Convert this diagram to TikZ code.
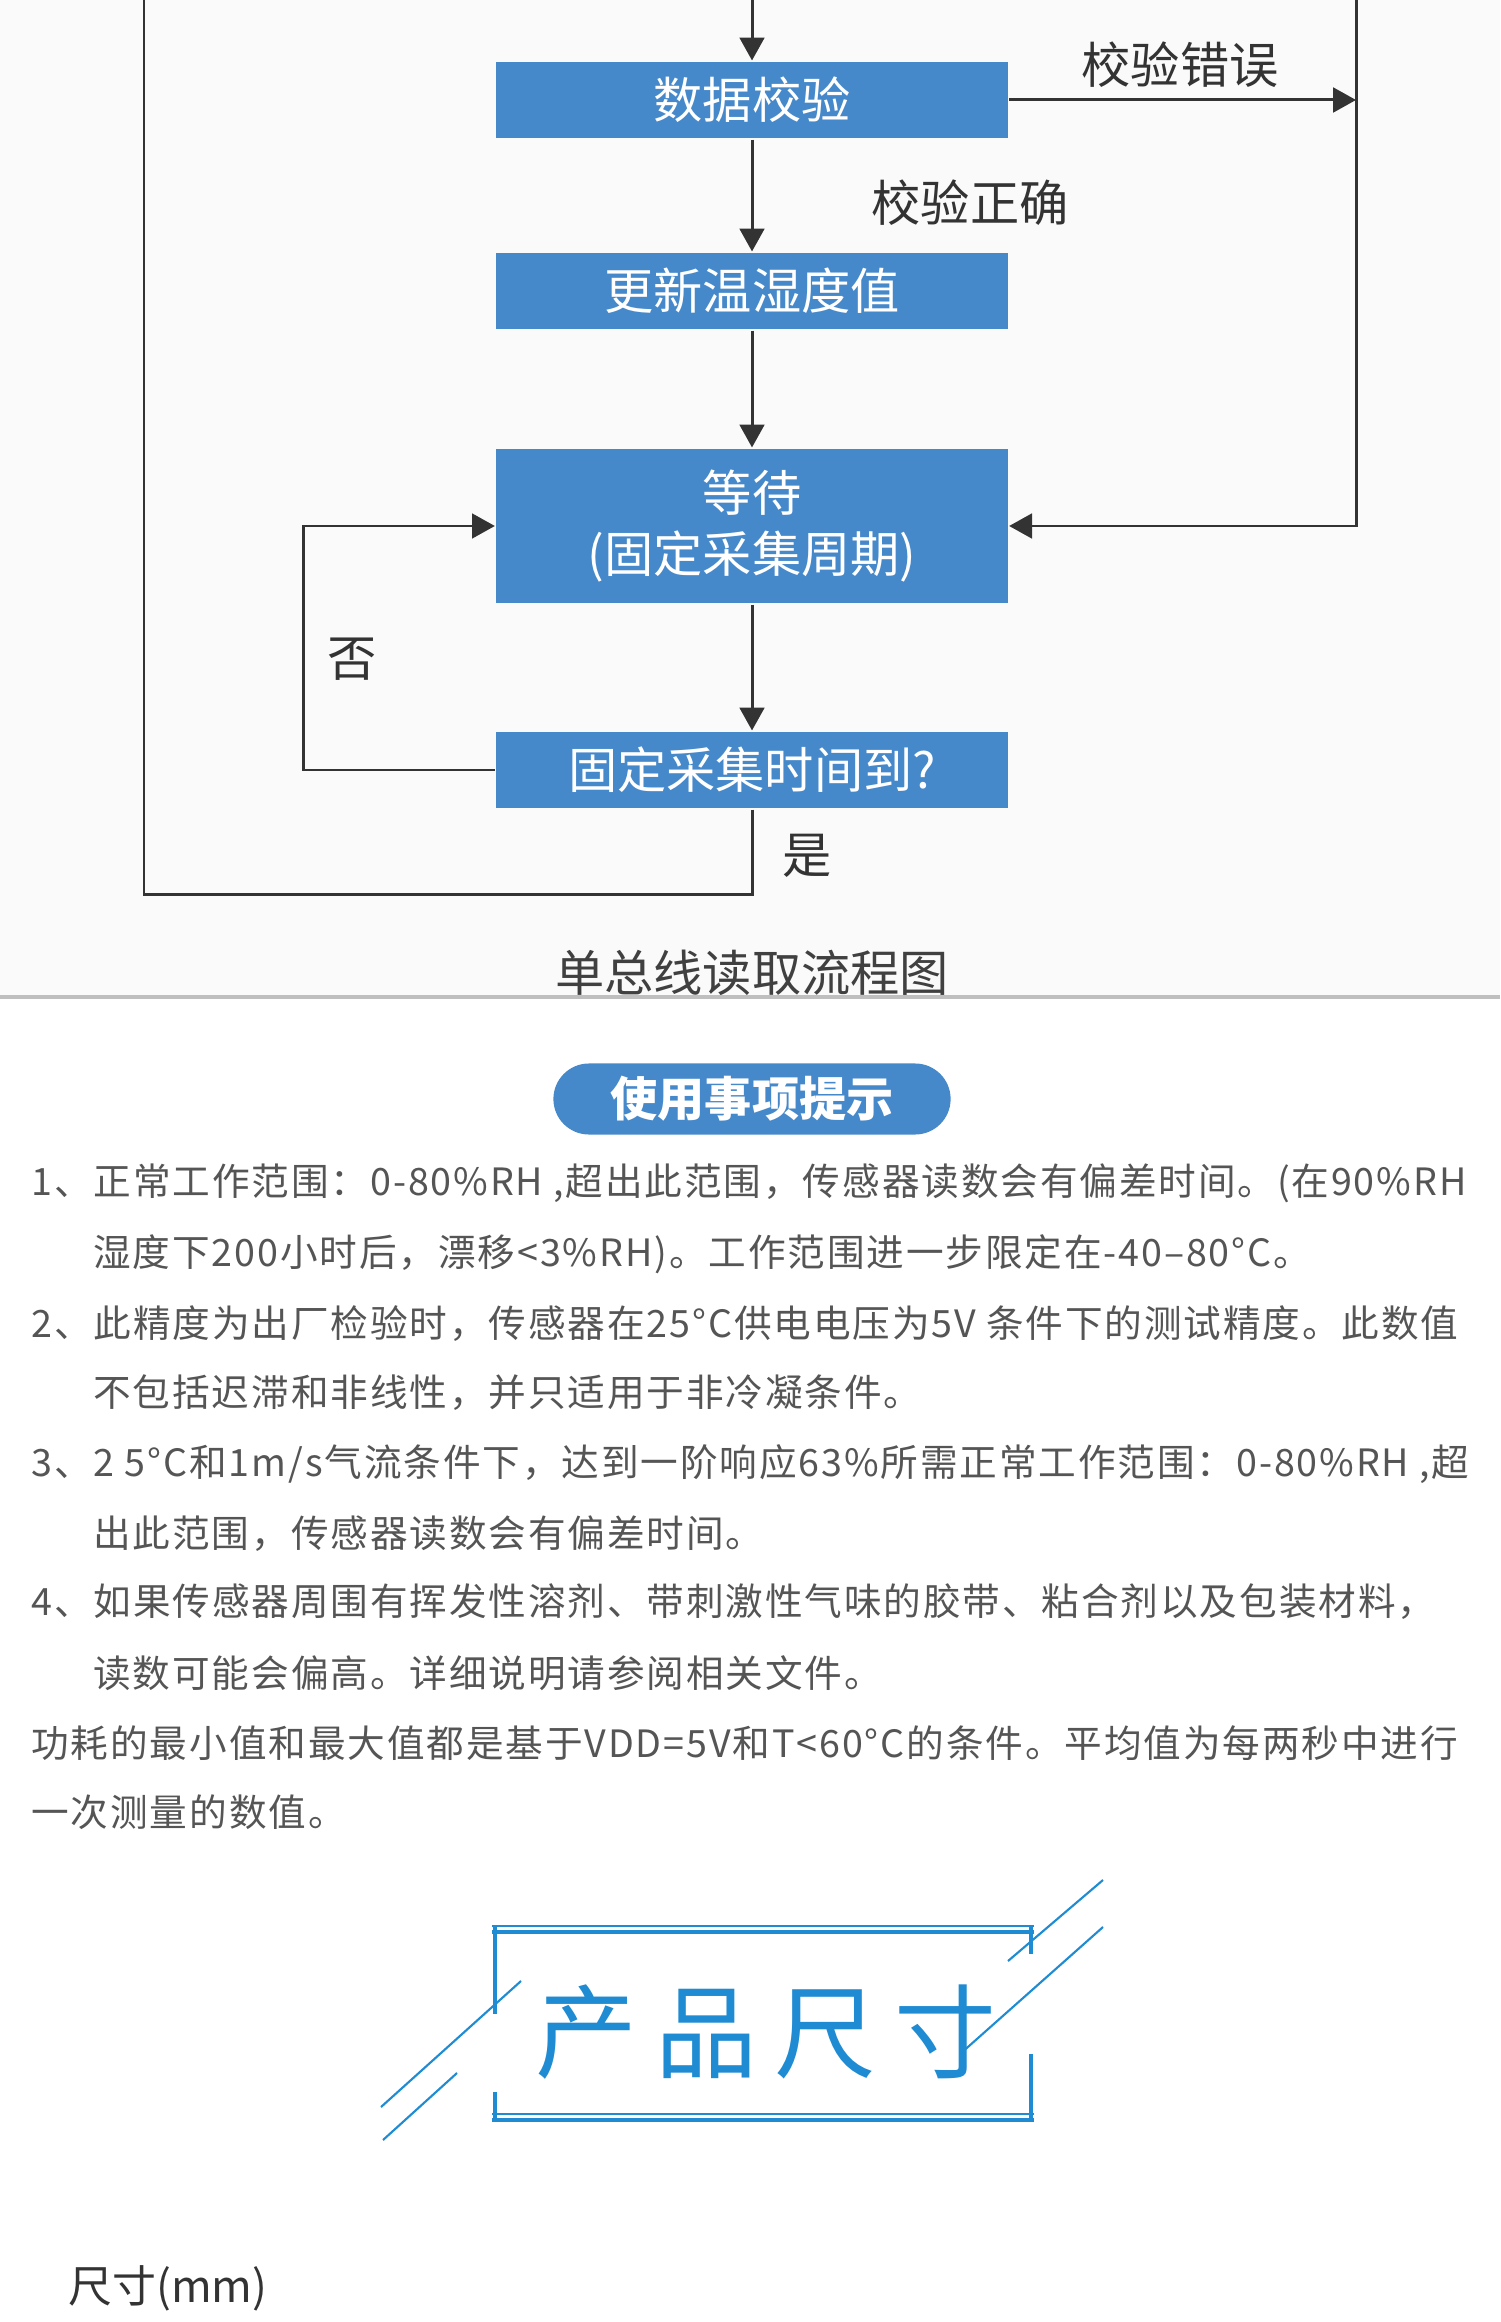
\documentclass[tikz,border=0pt]{standalone}
\usepackage{fontspec}
\setmainfont{Noto Sans CJK SC}
\newfontfamily\notefont[LetterSpace=5]{Noto Sans CJK SC}
\usetikzlibrary{positioning,arrows.meta}
\definecolor{boxblue}{HTML}{4689CB}
\definecolor{logoblue}{HTML}{1E8BD2}
\definecolor{txtgray}{HTML}{555555}
\definecolor{linegray}{HTML}{333333}

\begin{document}
\begin{tikzpicture}[
  x=0.01cm, y=-0.01cm,
  line width=0.85pt,
  flowbox/.style={fill=boxblue, text=white, inner sep=0pt,
    minimum width=5.11cm, minimum height=0.76cm, align=center,
    font=\fontsize{14}{17.6}\selectfont},
  flowline/.style={draw=linegray, line width=0.85pt},
  arr/.style={flowline, -{Triangle[length=6.5pt,width=7pt]}},
  lbl/.style={text=linegray, font=\fontsize{14}{17}\selectfont},
  note/.style={anchor=west, inner sep=0pt, text=txtgray,
    font=\notefont\fontsize{10.7}{12}\selectfont},
  logoline/.style={draw=logoblue, line width=1.1pt}
]
\useasboundingbox (0,0) rectangle (1500,2322);
% 流程图部分的底色
\fill[black!2] (0,0) rectangle (1500,997);

% 流程图
\coordinate (top) at (752,0);
\coordinate (errtop) at (1356,0);
\coordinate (back) at (144,0);
\node[flowbox] (check) at (752,100) {数据校验};
\node[flowbox] (update) at (752,291) {更新温湿度值};
\node[flowbox, minimum height=1.54cm] (wait) at (752,526) {等待\\(固定采集周期)};
\node[flowbox] (due) at (752,770) {固定采集时间到?};

\draw[arr] (top) -- (check);
\draw[arr] (check) -- (update);
\draw[arr] (update) -- (wait);
\draw[arr] (wait) -- (due);
\draw[arr] (check.east) -- (check.east -| errtop);
\draw[arr] (errtop) |- (wait.east);
\draw[arr] (due.west) -- ++(-191,0) |- (wait.west);
\draw[flowline] (due.south) -- ++(0,85) -| (back);

\node[lbl] (lerr) at (1180,65) {校验错误};
\node[lbl] (lok) at (970,203) {校验正确};
\node[lbl] (lno) at (352,659) {否};
\node[lbl] (lyes) at (807,856) {是};

\node[lbl, text=black!75] (caption) at (752,973) {单总线读取流程图};
\draw[black!25, line width=0.9pt] (0,997) -- (1500,997);

% 使用事项提示
\node[fill=boxblue, text=white, rounded corners=0.355cm,
  minimum width=3.97cm, minimum height=0.71cm, inner sep=0pt,
  font=\fontsize{13.4}{15}\selectfont\bfseries] (tips) at (752,1099) {使用事项提示};

\node[note] (note1) at (30,1183) {1、正常工作范围：0-80\%RH ,超出此范围，传感器读数会有偏差时间。(在90\%RH};
\node[note] (note2) at (92,1254) {湿度下200小时后，漂移<3\%RH)。工作范围进一步限定在-40–80°C。};
\node[note] (note3) at (30,1324) {2、此精度为出厂检验时，传感器在25°C供电电压为5V 条件下的测试精度。此数值};
\node[note] (note4) at (92,1393) {不包括迟滞和非线性，并只适用于非冷凝条件。};
\node[note] (note5) at (30,1464) {3、2 5°C和1m/s气流条件下，达到一阶响应63\%所需正常工作范围：0-80\%RH ,超};
\node[note] (note6) at (92,1534) {出此范围，传感器读数会有偏差时间。};
\node[note] (note7) at (30,1602) {4、如果传感器周围有挥发性溶剂、带刺激性气味的胶带、粘合剂以及包装材料，};
\node[note] (note8) at (92,1673) {读数可能会偏高。详细说明请参阅相关文件。};
\node[note] (note9) at (30,1743) {功耗的最小值和最大值都是基于VDD=5V和T<60°C的条件。平均值为每两秒中进行};
\node[note] (note10) at (30,1812) {一次测量的数值。};

% 产品尺寸 标题框
\foreach \y in {1926,2114}{
  \draw[logoline, line width=0.6pt] (492,\y) -- (1034,\y);
  \draw[logoline] (492,\y+6) -- (1034,\y+6);
}
\draw[logoline] (495,1926) -- (495,2014);
\draw[logoline] (495,2092) -- (495,2120);
\draw[logoline] (1031,1926) -- (1031,1954);
\draw[logoline] (1031,2054) -- (1031,2120);
\draw[logoline, line width=0.6pt] (381,2107) -- (521,1981);
\draw[logoline, line width=0.6pt] (383,2140) -- (457,2073);
\draw[logoline, line width=0.6pt] (1008,1961) -- (1103,1880);
\draw[logoline, line width=0.6pt] (960,2054) -- (1103,1927);
\node[text=logoblue, font=\fontsize{29}{30}\selectfont] (logo) at (766,2032)
  {产\hspace{5pt}品\hspace{5pt}尺\hspace{5pt}寸};

\node[anchor=west, inner sep=0pt, text=linegray,
  font=\fontsize{12.5}{14}\selectfont] (dimlbl) at (67,2288) {尺寸(mm)};
\end{tikzpicture}
\end{document}
